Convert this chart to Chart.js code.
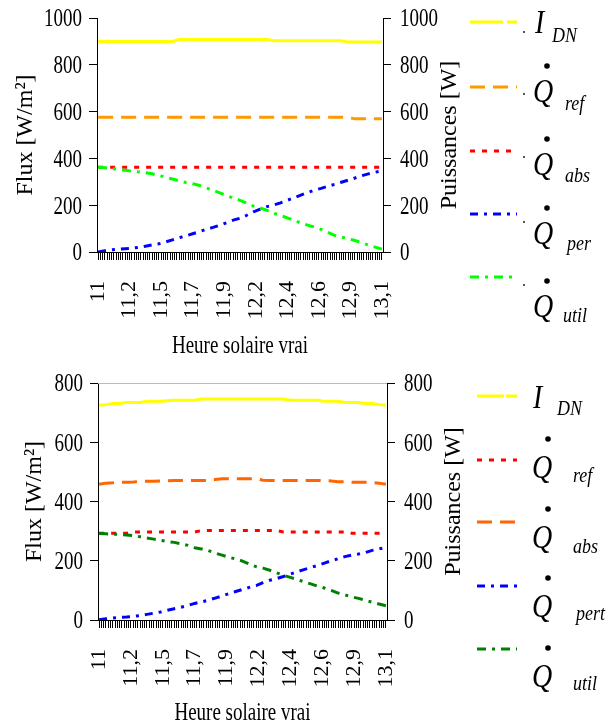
<!DOCTYPE html>
<html>
<head>
<meta charset="utf-8">
<script src="https://cdn.jsdelivr.net/npm/chart.js@4.4.0/dist/chart.umd.min.js"></script>
<style>
  html, body { margin: 0; padding: 0; background: #fff; }
  #wrap { position: relative; width: 607px; height: 722px; overflow: hidden; background: #fff; }
  #topPanel { position: absolute; left: 0; top: 0; }
  #bottomPanel { position: absolute; left: 0; top: 360px; }
</style>
</head>
<body>
<div id="wrap">
  <canvas id="topPanel" width="607" height="360"></canvas>
  <canvas id="bottomPanel" width="607" height="362"></canvas>
</div>
<script>
// Minutes elapsed since 11:00 true solar time (sampled every 3 min, up to 13:06)
const minutes = [0, 3, 6, 9, 12, 15, 18, 21, 24, 27, 30, 33, 36, 39, 42, 45, 48, 51, 54, 57, 60,
                 63, 66, 69, 72, 75, 78, 81, 84, 87, 90, 93, 96, 99, 102, 105, 108, 111, 114,
                 117, 120, 123, 126];
const lastMinute = 126;
// Hour labels printed on the time axis, one every 14 minutes
const tickLabels = ['11', '11,2', '11,5', '11,7', '11,9', '12,2', '12,4', '12,6', '12,9', '13,1'];
const labelStep = 14;

// Upper panel: direct normal irradiance [W/m2] and collector powers [W]
const topIdn = [900, 900, 900, 900, 900, 900, 900, 900, 900, 900, 900, 900,
                908, 908, 908, 908, 908, 908, 908, 908, 908, 908, 908, 908, 908, 908,
                903, 903, 903, 903, 903, 903, 903, 903, 903, 903, 903,
                897, 897, 897, 897, 897, 897];
const topRef = [576, 576, 576, 576, 576, 576, 576, 576, 576, 576, 576, 576, 576, 576, 576,
                576, 576, 576, 576, 576, 576, 576, 576, 576, 576, 576, 576, 576, 576, 576,
                576, 576, 576, 576, 576, 576, 576, 576, 569, 569, 569, 569, 569];
const topAbs = [362, 362, 362, 362, 362, 362, 362, 362, 362, 362, 362, 362, 362, 362, 362,
                362, 362, 362, 362, 362, 362, 362, 362, 362, 362, 362, 362, 362, 362, 362,
                362, 362, 362, 362, 362, 362, 362, 362, 362, 362, 362, 362, 362];
const topPer = [0, 5, 9, 12, 14, 16, 20, 25, 30, 35, 43, 52, 61, 69, 78, 87, 97, 105, 114, 125,
                136, 144, 157, 172, 183, 194, 201, 210, 221, 232, 243, 254, 264, 272, 281, 289,
                298, 307, 316, 326, 334, 341, 346];
const topUtil = [362, 360, 357, 353, 349, 345, 342, 339, 334, 327, 320, 312, 304, 297, 292, 284,
                 274, 264, 253, 241, 231, 221, 209, 196, 188, 178, 166, 156, 146, 135, 124, 115,
                 107, 97, 84, 71, 64, 57, 49, 40, 30, 21, 12];

// Lower panel
const botIdn = [725, 727, 731, 731, 734, 734, 734, 738, 738, 738, 740, 742, 742, 742, 742,
                746, 746, 746, 746, 746, 746, 746, 746, 746, 746, 746, 746, 746,
                742, 742, 742, 742, 742, 738, 738, 738, 734, 734, 734, 731, 731, 727, 725];
const botRef = [293, 293, 293, 293, 293, 297, 297, 297, 297, 297, 297, 297, 297, 297, 297,
                302, 302, 302, 302, 302, 302, 302, 302, 302, 302, 302, 302,
                297, 297, 297, 297, 297, 297, 297, 297, 297, 297, 293, 293, 293, 293, 293, 293];
const botAbs = [458, 462, 463, 465, 465, 466, 468, 468, 468, 469, 470, 471, 471, 471, 471, 471,
                471, 474, 477, 477, 477, 477, 477, 477, 472, 471, 471, 471, 471, 471, 471, 471,
                471, 471, 469, 467, 467, 465, 465, 465, 464, 462, 458];
const botPert = [1, 4, 7, 9, 10, 12, 15, 19, 23, 27, 33, 38, 43, 49, 56, 61, 67, 74, 81, 89, 96,
                 103, 110, 116, 126, 134, 140, 147, 155, 163, 170, 177, 184, 192, 200, 207, 214,
                 219, 223, 228, 235, 240, 244];
const botUtil = [292, 291, 290, 289, 287, 285, 281, 277, 273, 269, 265, 262, 257, 252, 244, 240,
                 234, 226, 219, 212, 206, 199, 189, 180, 175, 168, 159, 151, 144, 137, 129, 122,
                 114, 108, 100, 91, 85, 78, 73, 67, 60, 54, 48];

const SERIF = "'Liberation Serif', 'Times New Roman', serif";
const minuteTicks = Array.from({ length: lastMinute + 1 }, (_, k) => k);

// Text drawn with a taller-than-wide aspect, like the narrow Times face of the original sheet
function tallText(ctx, txt, x, y, font, align, baseline, sy) {
  ctx.save();
  ctx.translate(x, y);
  ctx.scale(1, sy);
  ctx.font = font;
  ctx.textAlign = align;
  ctx.textBaseline = baseline;
  ctx.fillText(txt, 0, 0);
  ctx.restore();
}

// Value labels of both vertical axes, axis titles, plot frame and the symbol legend
function makeDecor(cfg) {
  return {
    id: 'panelDecor',
    afterDraw(chart) {
      const ctx = chart.ctx;
      const a = chart.chartArea;
      ctx.save();
      ctx.fillStyle = '#000';
      if (cfg.topRule) {
        ctx.strokeStyle = cfg.topRule;
        ctx.lineWidth = 1;
        ctx.beginPath();
        ctx.moveTo(a.left, Math.round(a.top) + 0.5);
        ctx.lineTo(a.right, Math.round(a.top) + 0.5);
        ctx.stroke();
      }
      // value labels of the two vertical scales
      const tickFont = '19px ' + SERIF;
      chart.scales.y.ticks.forEach(t => {
        const py = chart.scales.y.getPixelForValue(t.value) + 2;
        tallText(ctx, String(t.value), a.left - 15, py, tickFont, 'right', 'middle', 1.3);
      });
      chart.scales.y2.ticks.forEach(t => {
        const py = chart.scales.y2.getPixelForValue(t.value) + 2;
        tallText(ctx, String(t.value), a.right + 17, py, tickFont, 'left', 'middle', 1.3);
      });
      // horizontal axis title
      tallText(ctx, cfg.xTitle, (a.left + a.right) / 2, cfg.xTitleBase, '19px ' + SERIF, 'center', 'alphabetic', 1.3);

      // vertical axis titles, read bottom to top
      const cy = (a.top + a.bottom) / 2;
      ctx.font = '24px ' + SERIF;
      ctx.textAlign = 'center';
      ctx.textBaseline = 'middle';
      [[cfg.leftTitle, cfg.leftTitleX], [cfg.rightTitle, cfg.rightTitleX]].forEach(([txt, x]) => {
        ctx.save();
        ctx.translate(x, cy);
        ctx.rotate(-Math.PI / 2);
        ctx.fillText(txt, 0, 0);
        ctx.restore();
      });

      // legend
      const lg = cfg.legend;
      lg.entries.forEach((e, i) => {
        const ds = chart.data.datasets[i];
        ctx.save();
        ctx.strokeStyle = ds.borderColor;
        ctx.lineWidth = ds.borderWidth;
        ctx.lineCap = 'butt';
        ctx.setLineDash(e.dash || ds.borderDash || []);
        ctx.beginPath();
        ctx.moveTo(lg.sampleX[0], e.lineY);
        ctx.lineTo(lg.sampleX[1], e.lineY);
        ctx.stroke();
        ctx.restore();

        if (lg.bulletX) {
          ctx.fillStyle = '#555';
          ctx.fillRect(lg.bulletX - 1, e.bulletY - 1, 2, 2);
        }
        ctx.fillStyle = '#000';
        tallText(ctx, e.main, e.mainX, e.base, 'italic 28px ' + SERIF, 'left', 'alphabetic', 1.2);
        if (e.dot) {
          ctx.beginPath();
          ctx.arc(lg.dotX, e.base - lg.dotRise, 2.8, 0, Math.PI * 2);
          ctx.fill();
        }
        tallText(ctx, e.sub, e.subX, e.subBase, 'italic 18px ' + SERIF, 'left', 'alphabetic', 1.2);
      });
      ctx.restore();
    }
  };
}

function makePanel(canvasId, cfg) {
  const n = cfg.series.length;
  const datasets = cfg.series.map((s, i) => ({
    label: s.name,
    data: s.values,
    borderColor: s.color,
    backgroundColor: s.color,
    borderWidth: 3,
    borderDash: s.dash,
    borderCapStyle: 'butt',
    pointRadius: 0,
    pointHoverRadius: 0,
    fill: false,
    tension: 0,
    order: n - i
  }));
  const yGrid = { drawOnChartArea: false, drawTicks: true, tickLength: 8, color: '#000', lineWidth: 1 };
  const yTicks = { display: false, stepSize: 200 };
  return new Chart(document.getElementById(canvasId), {
    type: 'line',
    data: { labels: minutes, datasets },
    options: {
      responsive: false,
      animation: false,
      devicePixelRatio: 1,
      layout: { padding: { top: cfg.padTop, right: cfg.padRight, left: 0, bottom: 0 } },
      plugins: { legend: { display: false }, tooltip: { enabled: false } },
      scales: {
        x: {
          type: 'linear',
          min: -0.5,
          max: lastMinute + 0.5,
          afterBuildTicks: s => { s.ticks = minuteTicks.map(v => ({ value: v })); },
          afterFit: s => { s.height = cfg.xAxisHeight; },
          grid: { drawOnChartArea: false, drawTicks: true, tickLength: 8, color: '#000', lineWidth: 1 },
          border: { display: true, color: '#000', width: 1 },
          ticks: {
            autoSkip: false,
            maxRotation: 90,
            minRotation: 90,
            padding: 21,
            font: { family: SERIF, size: 22 },
            color: '#000',
            callback: v => (v % labelStep === 0 ? tickLabels[v / labelStep] : '')
          },
          title: { display: false }
        },
        y: {
          position: 'left',
          min: 0,
          max: cfg.yMax,
          afterFit: s => { s.width = cfg.leftWidth; },
          grid: yGrid,
          border: { display: true, color: '#000', width: 1 },
          ticks: yTicks
        },
        y2: {
          position: 'right',
          min: 0,
          max: cfg.yMax,
          afterFit: s => { s.width = 80; },
          grid: yGrid,
          border: { display: true, color: '#000', width: 1 },
          ticks: yTicks
        }
      }
    },
    plugins: [makeDecor(cfg)]
  });
}

makePanel('topPanel', {
  yMax: 1000,
  padTop: 18,
  padRight: 144,
  leftWidth: 97,
  xAxisHeight: 108,
  xTitle: 'Heure solaire vrai',
  xTitleBase: 353,
  leftTitle: 'Flux [W/m²]',
  leftTitleX: 26,
  rightTitle: 'Puissances [W]',
  rightTitleX: 450,
  series: [
    { name: 'I DN', values: topIdn, color: '#FFFF00', dash: [] },
    { name: 'Q ref', values: topRef, color: '#FF9900', dash: [15, 8] },
    { name: 'Q abs', values: topAbs, color: '#FF0000', dash: [5, 7] },
    { name: 'Q per', values: topPer, color: '#0000FF', dash: [8, 6, 3, 6] },
    { name: 'Q util', values: topUtil, color: '#00FF00', dash: [9, 6, 3, 6] }
  ],
  legend: {
    sampleX: [470, 517],
    bulletX: 524,
    dotX: 547,
    dotRise: 36,
    entries: [
      { main: 'I', sub: 'DN', lineY: 22, mainX: 535, base: 33, subX: 552, subBase: 42, bulletY: 32, dash: [33, 4, 10, 200] },
      { main: 'Q', sub: 'ref', dot: true, lineY: 87, mainX: 533, base: 102, subX: 565, subBase: 110, bulletY: 94 },
      { main: 'Q', sub: 'abs', dot: true, lineY: 151, mainX: 533, base: 175, subX: 565, subBase: 182, bulletY: 157 },
      { main: 'Q', sub: 'per', dot: true, lineY: 214, mainX: 533, base: 244, subX: 567, subBase: 250, bulletY: 222 },
      { main: 'Q', sub: 'util', dot: true, lineY: 277, mainX: 533, base: 317, subX: 563, subBase: 322, bulletY: 285 }
    ]
  }
});

makePanel('bottomPanel', {
  yMax: 800,
  padTop: 23,
  padRight: 140,
  leftWidth: 98,
  xAxisHeight: 102,
  xTitle: 'Heure solaire vrai',
  xTitleBase: 360,
  topRule: '#BBBBBB',
  leftTitle: 'Flux [W/m²]',
  leftTitleX: 35,
  rightTitle: 'Puissances [W]',
  rightTitleX: 454,
  series: [
    { name: 'I DN', values: botIdn, color: '#FFFF00', dash: [] },
    { name: 'Q ref', values: botRef, color: '#FF0000', dash: [5, 7] },
    { name: 'Q abs', values: botAbs, color: '#FF6600', dash: [15, 8] },
    { name: 'Q pert', values: botPert, color: '#0000FF', dash: [8, 6, 3, 6] },
    { name: 'Q util', values: botUtil, color: '#008000', dash: [9, 6, 3, 6] }
  ],
  legend: {
    sampleX: [477, 517],
    bulletX: null,
    dotX: 548,
    dotRise: 39,
    entries: [
      { main: 'I', sub: 'DN', lineY: 36, mainX: 533, base: 48, subX: 557, subBase: 55, dash: [27, 2, 12, 200] },
      { main: 'Q', sub: 'ref', dot: true, lineY: 100, mainX: 532, base: 118, subX: 573, subBase: 122 },
      { main: 'Q', sub: 'abs', dot: true, lineY: 162, mainX: 532, base: 188, subX: 573, subBase: 193 },
      { main: 'Q', sub: 'pert', dot: true, lineY: 226, mainX: 532, base: 257, subX: 576, subBase: 260 },
      { main: 'Q', sub: 'util', dot: true, lineY: 289, mainX: 532, base: 327, subX: 573, subBase: 330 }
    ]
  }
});
</script>
</body>
</html>
